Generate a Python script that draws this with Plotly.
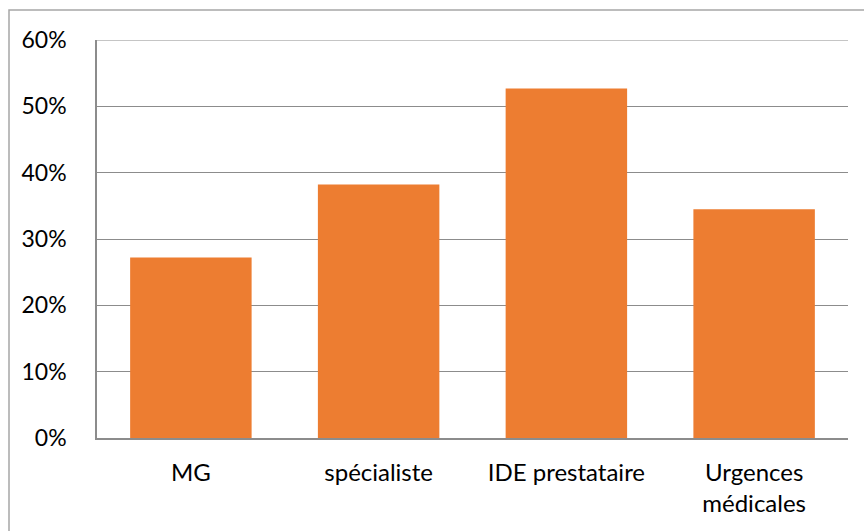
import plotly.graph_objects as go

categories = ["MG", "spécialiste", "IDE prestataire", "Urgences<br>médicales"]
values = [0.272, 0.382, 0.527, 0.345]
y_ticks = [0, 0.1, 0.2, 0.3, 0.4, 0.5, 0.6]
y_tick_labels = ["0%", "10%", "20%", "30%", "40%", "50%", "60%"]

fig = go.Figure(go.Bar(x=categories, y=values, marker_color="#ED7D31", marker_line_width=0))

L, R, T, B = 97, 16, 40, 93
W, H = 864, 531
pw, ph = W - L - R, H - T - B

def px_x(p):
    return (p - L) / pw

def px_y(p):
    return (H - B - p) / ph

grid_color = "#8C8C8C"

fig.update_layout(
    width=W, height=H,
    margin=dict(l=L, r=R, t=T, b=B, pad=0, autoexpand=False),
    plot_bgcolor="white", paper_bgcolor="white",
    bargap=0.353,
    showlegend=False,
    font=dict(family="Lato, Carlito, Calibri, sans-serif", size=23, color="#000000"),
    shapes=[
        dict(type="rect", xref="paper", yref="paper",
             x0=px_x(9), x1=px_x(900), y0=px_y(10), y1=px_y(600),
             line=dict(color="#A6A6A6", width=1.5), fillcolor="rgba(0,0,0,0)", layer="below"),
        dict(type="line", xref="paper", yref="y", x0=0, x1=1, y0=y_ticks[-1], y1=y_ticks[-1],
             line=dict(color=grid_color, width=1.2), layer="below"),
    ],
)
fig.update_xaxes(showline=True, linecolor=grid_color, linewidth=1.5, showgrid=False,
                 ticks="", ticklabelstandoff=12, automargin=False, tickfont=dict(size=24))
fig.update_yaxes(range=[0, 0.6], tickvals=y_ticks, ticktext=y_tick_labels,
                 showgrid=True, gridcolor=grid_color, gridwidth=1.2,
                 showline=True, linecolor=grid_color, linewidth=1.5,
                 zeroline=False, ticks="", ticklabelstandoff=24, automargin=False)

fig.write_html("out.html", config={"displayModeBar": False},
               post_script="document.body.style.margin='0';document.body.style.overflow='hidden';")
